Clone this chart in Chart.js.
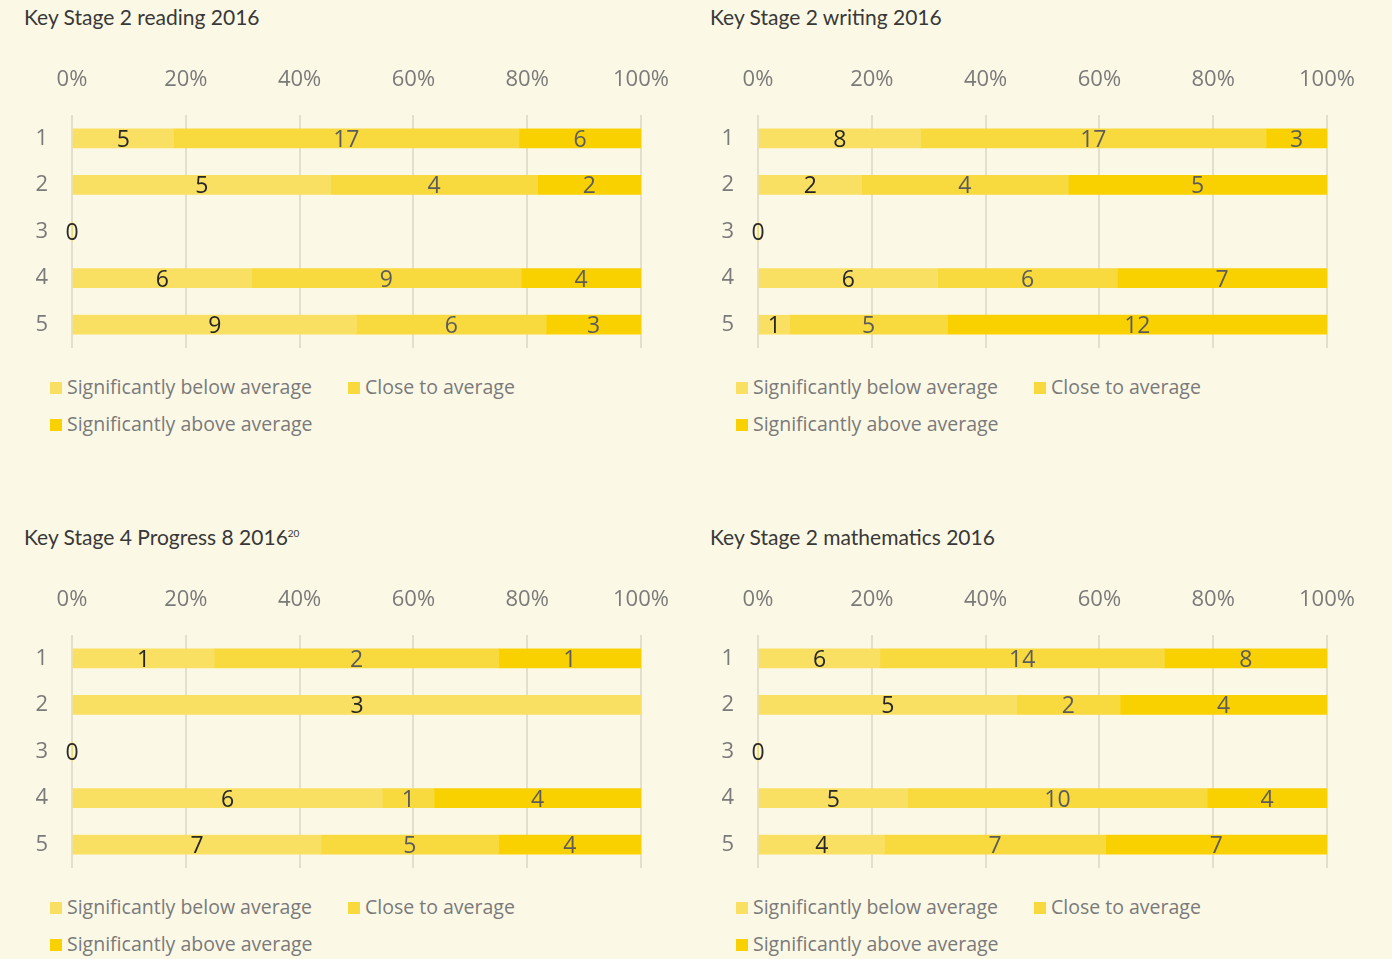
<!DOCTYPE html>
<html>
<head>
<meta charset="utf-8">
<script src="https://cdn.jsdelivr.net/npm/chart.js@4"></script>
<style>
  html, body { margin: 0; padding: 0; background: #fcf8e6; }
  body { width: 1392px; height: 959px; position: relative; overflow: hidden; font-family: 'Open Sans', sans-serif; }
  .panel { position: absolute; width: 686px; height: 480px; }
  .title { position: absolute; left: 24px; top: 4px; font-family: 'Lato', sans-serif; font-size: 21px; color: #383838; white-space: nowrap; }
  .title sup { font-size: 10px; }
  .cv { position: absolute; left: 0; top: 50px; }
  .leg { position: absolute; font-size: 19.5px; color: #7a7a7a; white-space: nowrap; }
  .leg span.box { display: inline-block; width: 12px; height: 12px; margin-right: 5px; vertical-align: 0px; }
</style>
</head>
<body>

<script>
// ── DATA ─────────────────────────────────────
const categories = ['1', '2', '3', '4', '5'];
const seriesNames = ['Significantly below average', 'Close to average', 'Significantly above average'];
const seriesColors = ['#f9e063', '#f8da3e', '#f9d100'];
const tickLabels = ['0%', '20%', '40%', '60%', '80%', '100%'];

// counts per row: [below, close, above]
const readingBelow = [5, 5, 0, 6, 9];
const readingClose = [17, 4, 0, 9, 6];
const readingAbove = [6, 2, 0, 4, 3];

const writingBelow = [8, 2, 0, 6, 1];
const writingClose = [17, 4, 0, 6, 5];
const writingAbove = [3, 5, 0, 7, 12];

const progressBelow = [1, 3, 0, 6, 7];
const progressClose = [2, 0, 0, 1, 5];
const progressAbove = [1, 0, 0, 4, 4];

const mathsBelow = [6, 5, 0, 5, 4];
const mathsClose = [14, 2, 0, 10, 7];
const mathsAbove = [8, 4, 0, 4, 7];

const panels = [
  { title: 'Key Stage 2 reading 2016', sup: '', x: 0, y: 0, series: [readingBelow, readingClose, readingAbove] },
  { title: 'Key Stage 2 writing 2016', sup: '', x: 686, y: 0, series: [writingBelow, writingClose, writingAbove] },
  { title: 'Key Stage 4 Progress 8 2016', sup: '20', x: 0, y: 520, series: [progressBelow, progressClose, progressAbove] },
  { title: 'Key Stage 2 mathematics 2016', sup: '', x: 686, y: 520, series: [mathsBelow, mathsClose, mathsAbove] },
];

// ── COUNT LABELS ─────────────────────────────
const countLabels = {
  id: 'countLabels',
  afterDatasetsDraw(chart) {
    const ctx = chart.ctx;
    const counts = chart.options.plugins.countLabels.counts;
    const xs = chart.scales.x;
    ctx.save();
    ctx.font = '23px "Open Sans", sans-serif';
    ctx.textAlign = 'center';
    ctx.textBaseline = 'middle';
    categories.forEach((c, i) => {
      const total = counts.reduce((s, arr) => s + arr[i], 0);
      if (total === 0) {
        const el = chart.getDatasetMeta(0).data[i];
        ctx.fillStyle = '#2b2b2b';
        ctx.fillText('0', xs.getPixelForValue(0), el.y + 2);
        return;
      }
      counts.forEach((arr, d) => {
        if (!arr[i]) return;
        const el = chart.getDatasetMeta(d).data[i];
        ctx.fillStyle = d === 0 ? '#262626' : '#5c5c5c';
        ctx.fillText(String(arr[i]), (el.x + el.base) / 2, el.y + 2);
      });
    });
    ctx.restore();
  }
};

// ── BUILD PANELS ─────────────────────────────
panels.forEach((p, n) => {
  const div = document.createElement('div');
  div.className = 'panel';
  div.style.left = p.x + 'px';
  div.style.top = p.y + 'px';
  div.innerHTML = `
    <div class="title">${p.title}${p.sup ? '<sup>' + p.sup + '</sup>' : ''}</div>
    <canvas class="cv" id="cv${n}" width="686" height="300"></canvas>
    <div class="leg" style="left:50px;top:373px"><span class="box" style="background:${seriesColors[0]}"></span>${seriesNames[0]}</div>
    <div class="leg" style="left:348px;top:373px"><span class="box" style="background:${seriesColors[1]}"></span>${seriesNames[1]}</div>
    <div class="leg" style="left:50px;top:410px"><span class="box" style="background:${seriesColors[2]}"></span>${seriesNames[2]}</div>
  `;
  document.body.appendChild(div);

  const totals = categories.map((c, i) => p.series.reduce((s, arr) => s + arr[i], 0));
  const datasets = p.series.map((arr, d) => ({
    label: seriesNames[d],
    data: arr.map((v, i) => totals[i] ? v / totals[i] * 100 : 0),
    backgroundColor: seriesColors[d],
    borderWidth: 0,
    barThickness: 19,
  }));

  new Chart(document.getElementById('cv' + n).getContext('2d'), {
    type: 'bar',
    data: { labels: categories, datasets },
    plugins: [countLabels],
    options: {
      indexAxis: 'y',
      responsive: false,
      animation: false,
      layout: { padding: { left: 0, right: 45, top: 0, bottom: 2 } },
      plugins: {
        legend: { display: false },
        tooltip: { enabled: false },
        countLabels: { counts: p.series },
      },
      scales: {
        x: {
          position: 'top',
          stacked: true,
          min: 0, max: 100,
          ticks: {
            stepSize: 20,
            padding: 22,
            color: '#7a7a7a',
            font: { family: '"Open Sans", sans-serif', size: 22 },
            callback: (v) => tickLabels[v / 20],
          },
          grid: { color: '#e4dfcc', lineWidth: 2, drawTicks: false },
          border: { display: false },
          afterFit: (s) => { s.height = 65; s.paddingLeft = 0; s.paddingRight = 0; },
        },
        y: {
          stacked: true,
          ticks: {
            padding: 24,
            color: '#7a7a7a',
            font: { family: '"Open Sans", sans-serif', size: 22 },
          },
          grid: { display: false, drawTicks: false },
          border: { display: false },
          afterFit: (s) => { s.width = 72; s.paddingTop = 0; s.paddingBottom = 0; },
        }
      }
    }
  });
});
</script>
</body>
</html>
